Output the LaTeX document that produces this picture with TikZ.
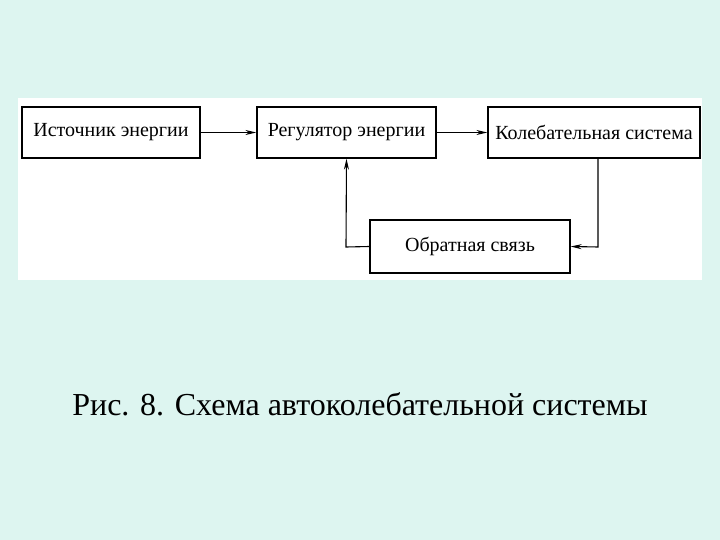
\documentclass[tikz,border=0pt]{standalone}
\usepackage{fontspec}
\setmainfont{Liberation Serif}
\usetikzlibrary{arrows.meta}
\begin{document}
\begin{tikzpicture}[x=1pt,y=-1pt,
  blk/.style={draw,line width=1.3pt,fill=white,inner sep=0pt,font=\fontsize{20}{22}\selectfont},
  con/.style={line width=1.1pt,-{Stealth[length=11pt,width=5pt]}}]
\fill[fill={rgb,255:red,221;green,245;blue,240}] (0,0) rectangle (720,540);
\useasboundingbox (0,0) rectangle (720,540);
\fill[white] (18,98) rectangle (702,280);
\node[blk,minimum width=178pt,minimum height=51pt] (a) at (111,132.5) {Источник энергии};
\node[blk,minimum width=179pt,minimum height=51pt] (b) at (346.5,132.5) {Регулятор энергии};
\node[blk,minimum width=212pt,minimum height=51pt] (c) at (594,132.5) {Колебательная система};
\node[blk,minimum width=200pt,minimum height=53pt] (d) at (470,246.5) {Обратная связь};
\coordinate (c1) at (598,247);
\coordinate (d1) at (346,247);
\draw[con] (a) -- (b);
\draw[con] (b) -- (c);
\draw[con] (c.south -| c1) -- (c1) -- (d.east);
\draw[con] (d.west) -- (d1) -- (b.south);
\node[font=\fontsize{32}{36}\selectfont] (cap) at (360,404) {Рис. 8. Схема автоколебательной системы};
\end{tikzpicture}
\end{document}
